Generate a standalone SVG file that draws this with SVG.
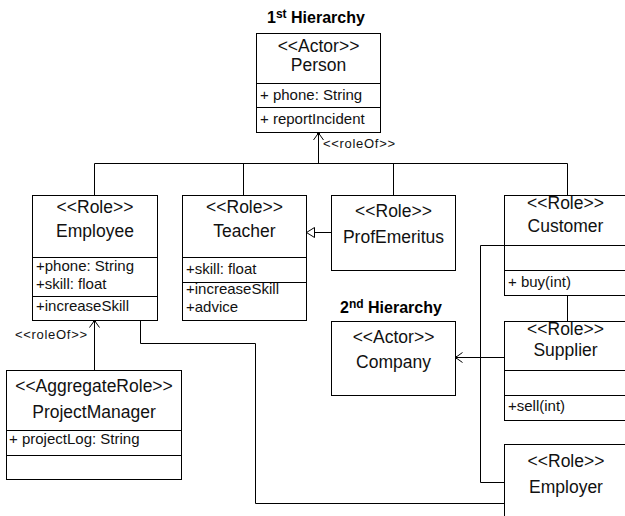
<svg xmlns="http://www.w3.org/2000/svg" width="625" height="516" viewBox="0 0 625 516">
<style>
  rect.box { fill: #ffffff; stroke: #000000; stroke-width: 1; }
  line.sep, .conn { stroke: #000000; stroke-width: 1; fill: none; }
  text { font-family: "Liberation Sans", Arial, sans-serif; fill: #111111; }
  .name { font-size: 17.5px; text-anchor: middle; }
  .attr { font-size: 15px; }
  .lbl { font-size: 13px; }
  .title { font-size: 16px; font-weight: bold; fill: #000000; }
</style>
<defs>
  <marker id="open" viewBox="-10 -7 12 14" refX="0" refY="0" markerUnits="userSpaceOnUse" markerWidth="12" markerHeight="14" orient="auto" overflow="visible">
    <path d="M-7,-5 L0,0 L-7,5" fill="none" stroke="#000" stroke-width="1"/>
    <rect x="-1.5" y="-1.5" width="3" height="3" fill="#000"/>
  </marker>
  <marker id="tri" viewBox="-10 -7 12 14" refX="0" refY="0" markerUnits="userSpaceOnUse" markerWidth="12" markerHeight="14" orient="auto" overflow="visible">
    <path d="M0,0 L-8,-5 L-8,5 Z" fill="#fff" stroke="#000" stroke-width="1"/>
  </marker>
</defs>
<rect width="625" height="516" fill="#ffffff"/>

<text class="title" x="267" y="23">1<tspan font-size="12" dy="-5">st</tspan><tspan dy="5"> Hierarchy</tspan></text>
<text class="title" x="340" y="313">2<tspan font-size="12" dy="-5">nd</tspan><tspan dy="5"> Hierarchy</tspan></text>

<g id="connectors">
  <line class="conn" x1="318.5" y1="163.5" x2="318.5" y2="133" marker-end="url(#open)"/>
  <polyline class="conn" points="94.5,195 94.5,163.5 567.5,163.5 567.5,195"/>
  <line class="conn" x1="243.5" y1="163.5" x2="243.5" y2="195"/>
  <line class="conn" x1="393.5" y1="163.5" x2="393.5" y2="195"/>
  <text class="lbl" x="323" y="148" textLength="72" lengthAdjust="spacing">&lt;&lt;roleOf&gt;&gt;</text>
  <line class="conn" x1="331" y1="232.5" x2="306.5" y2="232.5" marker-end="url(#tri)"/>
  <line class="conn" x1="94.5" y1="370" x2="94.5" y2="320.5" marker-end="url(#open)"/>
  <text class="lbl" x="15" y="339" textLength="72" lengthAdjust="spacing">&lt;&lt;roleOf&gt;&gt;</text>
  <polyline class="conn" points="140.5,320.5 140.5,343.5 255.5,343.5 255.5,503.5 504.5,503.5"/>
  <line class="conn" x1="567.5" y1="295.5" x2="567.5" y2="321"/>
  <line class="conn" x1="504.5" y1="357.5" x2="455.5" y2="357.5" marker-end="url(#open)"/>
  <polyline class="conn" points="504.5,482.5 480.5,482.5 480.5,245.5 504.5,245.5"/>
</g>

<g id="person">
  <rect class="box" x="256.5" y="33.5" width="124" height="99"/>
  <line class="sep" x1="256.5" y1="83.5" x2="380.5" y2="83.5"/>
  <line class="sep" x1="256.5" y1="107.5" x2="380.5" y2="107.5"/>
  <text class="name" x="318.5" y="52">&lt;&lt;Actor&gt;&gt;</text>
  <text class="name" x="318.5" y="71">Person</text>
  <text class="attr" x="260" y="100">+ phone: String</text>
  <text class="attr" x="260" y="124">+ reportIncident</text>
</g>

<g id="employee">
  <rect class="box" x="32.5" y="195.5" width="125" height="125"/>
  <line class="sep" x1="32.5" y1="257.5" x2="157.5" y2="257.5"/>
  <line class="sep" x1="32.5" y1="296.5" x2="157.5" y2="296.5"/>
  <text class="name" x="95" y="213">&lt;&lt;Role&gt;&gt;</text>
  <text class="name" x="95" y="237">Employee</text>
  <text class="attr" x="36" y="271">+phone: String</text>
  <text class="attr" x="36" y="289">+skill: float</text>
  <text class="attr" x="36" y="311">+increaseSkill</text>
</g>

<g id="teacher">
  <rect class="box" x="182.5" y="195.5" width="124" height="125"/>
  <line class="sep" x1="182.5" y1="257.5" x2="306.5" y2="257.5"/>
  <line class="sep" x1="182.5" y1="282.5" x2="306.5" y2="282.5"/>
  <text class="name" x="244.5" y="213">&lt;&lt;Role&gt;&gt;</text>
  <text class="name" x="244.5" y="237">Teacher</text>
  <text class="attr" x="186" y="274">+skill: float</text>
  <text class="attr" x="186" y="294">+increaseSkill</text>
  <text class="attr" x="186" y="312">+advice</text>
</g>

<g id="profemeritus">
  <rect class="box" x="331.5" y="195.5" width="124" height="75"/>
  <text class="name" x="393.5" y="217">&lt;&lt;Role&gt;&gt;</text>
  <text class="name" x="393.5" y="243">ProfEmeritus</text>
</g>

<g id="customer">
  <rect class="box" x="504.5" y="195.5" width="130" height="100"/>
  <line class="sep" x1="504.5" y1="245.5" x2="634.5" y2="245.5"/>
  <line class="sep" x1="504.5" y1="270.5" x2="634.5" y2="270.5"/>
  <text class="name" x="565.5" y="209">&lt;&lt;Role&gt;&gt;</text>
  <text class="name" x="565.5" y="232">Customer</text>
  <text class="attr" x="508" y="287">+ buy(int)</text>
</g>

<g id="company">
  <rect class="box" x="331.5" y="321.5" width="124" height="74"/>
  <text class="name" x="393.5" y="343">&lt;&lt;Actor&gt;&gt;</text>
  <text class="name" x="393.5" y="368">Company</text>
</g>

<g id="supplier">
  <rect class="box" x="504.5" y="321.5" width="130" height="99"/>
  <line class="sep" x1="504.5" y1="370.5" x2="634.5" y2="370.5"/>
  <line class="sep" x1="504.5" y1="395.5" x2="634.5" y2="395.5"/>
  <text class="name" x="565.5" y="335">&lt;&lt;Role&gt;&gt;</text>
  <text class="name" x="565.5" y="356">Supplier</text>
  <text class="attr" x="508" y="411">+sell(int)</text>
</g>

<g id="employer">
  <rect class="box" x="504.5" y="444.5" width="130" height="80"/>
  <text class="name" x="566" y="467">&lt;&lt;Role&gt;&gt;</text>
  <text class="name" x="566" y="493">Employer</text>
</g>

<g id="projectmanager">
  <rect class="box" x="6.5" y="370.5" width="175" height="109"/>
  <line class="sep" x1="6.5" y1="430.5" x2="181.5" y2="430.5"/>
  <line class="sep" x1="6.5" y1="455.5" x2="181.5" y2="455.5"/>
  <text class="name" x="94" y="392">&lt;&lt;AggregateRole&gt;&gt;</text>
  <text class="name" x="94" y="418">ProjectManager</text>
  <text class="attr" x="9" y="444">+ projectLog: String</text>
</g>
</svg>
